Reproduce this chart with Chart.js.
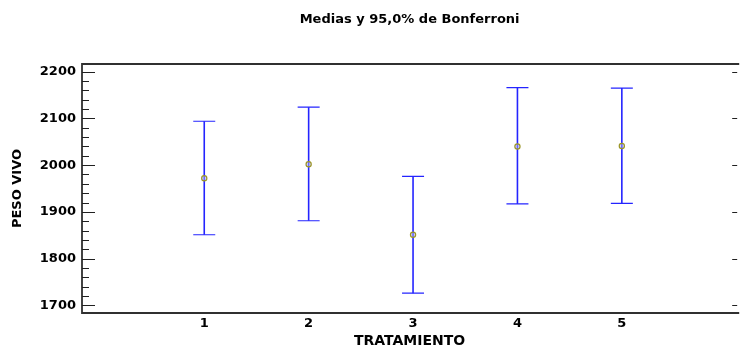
<!DOCTYPE html>
<html>
<head>
<meta charset="utf-8">
<script src="https://cdn.jsdelivr.net/npm/chart.js@4/dist/chart.umd.min.js"></script>
<style>
  html, body { margin: 0; padding: 0; background: #ffffff; }
  #wrap { width: 741px; height: 347px; }
</style>
</head>
<body>
<div id="wrap"><canvas id="c" width="741" height="347"></canvas></div>
<script>
// Treatment groups and their means with 95% Bonferroni intervals
const categories = ['1', '2', '3', '4', '5'];
const means = [1972, 2002, 1851, 2040, 2041];
const lower = [1851, 1881, 1726, 1917, 1918];
const upper = [2094, 2124, 1976, 2166, 2165];
const yTicks = [1700, 1800, 1900, 2000, 2100, 2200];

const FONT = 'DejaVu Sans';
const BAR_COLOR = '#2424ff';
const FRAME_COLOR = '#303030';

// Interval whiskers, drawn through the chart's scales
const intervalPlugin = {
  id: 'intervals',
  beforeDatasetsDraw(chart) {
    const { ctx, scales: { x, y } } = chart;
    ctx.save();
    ctx.strokeStyle = BAR_COLOR;
    categories.forEach((c, i) => {
      const px = x.getPixelForValue(i + 1);
      const yLo = y.getPixelForValue(lower[i]);
      const yHi = y.getPixelForValue(upper[i]);
      ctx.lineWidth = 1.6;
      ctx.beginPath();
      ctx.moveTo(px, yHi);
      ctx.lineTo(px, yLo);
      ctx.stroke();
      ctx.lineWidth = 1.2;
      ctx.beginPath();
      ctx.moveTo(px - 11, yHi);
      ctx.lineTo(px + 11, yHi);
      ctx.moveTo(px - 11, yLo);
      ctx.lineTo(px + 11, yLo);
      ctx.stroke();
    });
    ctx.restore();
  }
};

// Plot frame with inward tick marks
const framePlugin = {
  id: 'frame',
  afterDraw(chart) {
    const { ctx, chartArea: a, scales: { y } } = chart;
    ctx.save();
    ctx.strokeStyle = FRAME_COLOR;
    ctx.lineWidth = 1.8;
    ctx.beginPath();
    ctx.moveTo(a.right + 2, a.top);
    ctx.lineTo(a.left, a.top);
    ctx.lineTo(a.left, a.bottom);
    ctx.lineTo(a.right + 2, a.bottom);
    ctx.stroke();

    ctx.lineWidth = 1;
    ctx.strokeStyle = '#202020';
    const first = yTicks[0], last = yTicks[yTicks.length - 1];
    for (let v = first; v <= last; v += 20) {
      const py = Math.round(y.getPixelForValue(v)) + 0.5;
      const major = yTicks.includes(v);
      ctx.beginPath();
      ctx.moveTo(a.left, py);
      ctx.lineTo(a.left + (major ? 13 : 7), py);
      if (major) {
        ctx.moveTo(a.right, py);
        ctx.lineTo(a.right - 5, py);
      }
      ctx.stroke();
    }
    ctx.restore();
  }
};

new Chart(document.getElementById('c'), {
  type: 'scatter',
  data: {
    datasets: [{
      label: 'Media',
      data: means.map((m, i) => ({ x: i + 1, y: m })),
      pointStyle: 'circle',
      pointRadius: 2.6,
      pointHoverRadius: 2.6,
      pointBorderWidth: 1.2,
      pointBorderColor: '#9c9626',
      pointBackgroundColor: 'rgba(170,170,255,0.5)'
    }]
  },
  options: {
    responsive: false,
    animation: false,
    events: [],
    layout: { padding: 0 },
    plugins: {
      legend: { display: false },
      tooltip: { enabled: false },
      title: {
        display: true,
        text: 'Medias y 95,0% de Bonferroni',
        fullSize: false,
        color: '#000000',
        font: { family: FONT, size: 13, weight: 'bold', lineHeight: 1.2 },
        padding: { top: 12, bottom: 36.4 }
      }
    },
    scales: {
      x: {
        type: 'linear',
        min: -0.171,
        max: 6.105,
        grid: { display: false, drawTicks: false },
        border: { display: false },
        afterBuildTicks(scale) {
          scale.ticks = categories.map((c, i) => ({ value: i + 1 }));
        },
        ticks: {
          padding: 3,
          color: '#000000',
          font: { family: FONT, size: 13, weight: 'bold' },
          callback: (v) => categories[v - 1]
        },
        title: {
          display: true,
          text: 'TRATAMIENTO',
          color: '#000000',
          font: { family: FONT, size: 14, weight: 'bold', lineHeight: 0.8 },
          padding: { top: 0, bottom: 0 }
        },
        afterFit(scale) { scale.height = 34; }
      },
      y: {
        min: 1683.5,
        max: 2216.5,
        grid: { display: false, drawTicks: false },
        border: { display: false },
        afterBuildTicks(scale) {
          scale.ticks = yTicks.map(v => ({ value: v }));
        },
        ticks: {
          padding: 6,
          color: '#000000',
          font: { family: FONT, size: 13, weight: 'bold' },
          callback: (v) => String(v)
        },
        title: {
          display: true,
          text: 'PESO VIVO',
          color: '#000000',
          font: { family: FONT, size: 13, weight: 'bold', lineHeight: 1.2 },
          padding: { top: 10, bottom: 0 }
        },
        afterFit(scale) { scale.width = 82; }
      }
    }
  },
  plugins: [intervalPlugin, framePlugin]
});
</script>
</body>
</html>
